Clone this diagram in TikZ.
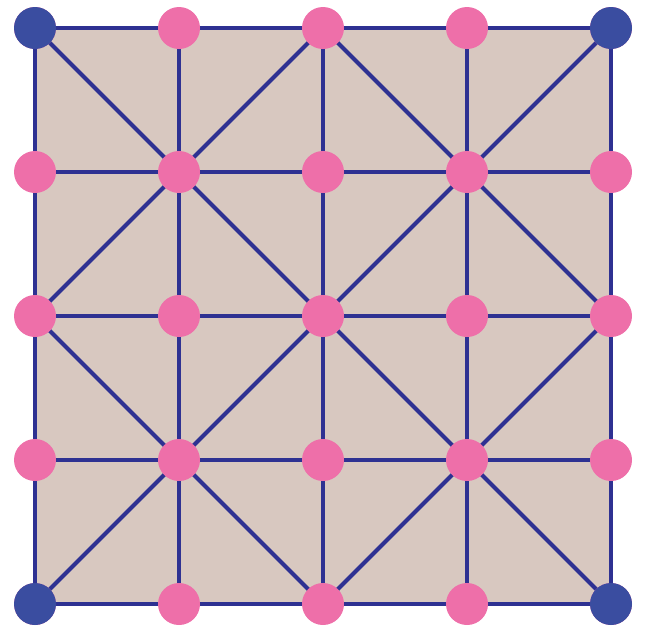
\documentclass[tikz,border=0pt]{standalone}
\begin{document}
\begin{tikzpicture}[x=0.75pt,y=-0.75pt,
  edge/.style={draw=lineblue,line width=3pt},
  pinkdot/.style={circle,fill=dotpink,minimum size=31.5pt,inner sep=0pt},
  bluedot/.style={circle,fill=dotblue,minimum size=31.5pt,inner sep=0pt}]
\definecolor{lineblue}{HTML}{2E3192}
\definecolor{dotpink}{HTML}{EE6FA9}
\definecolor{dotblue}{HTML}{3A4DA0}
\definecolor{paper}{HTML}{D8C8C0}
\useasboundingbox (0,0) rectangle (653,643);
\fill[paper] (35,28) rectangle (611,604);
% coordinates
\foreach \i in {0,...,4}{
  \foreach \j in {0,...,4}{
    \coordinate (c\i\j) at ({35+144*\i},{28+144*\j});
  }
}
% grid lines
\foreach \i in {0,...,4}{
  \draw[edge] (c\i0) -- (c\i4);
  \draw[edge] (c0\i) -- (c4\i);
}
% diagonals
\draw[edge] (c00) -- (c11) -- (c20) -- (c31) -- (c40);
\draw[edge] (c02) -- (c11) -- (c22) -- (c31) -- (c42);
\draw[edge] (c02) -- (c13) -- (c22) -- (c33) -- (c42);
\draw[edge] (c04) -- (c13) -- (c24) -- (c33) -- (c44);
% nodes
\foreach \i in {0,...,4}{
  \foreach \j in {0,...,4}{
    \node[pinkdot] (n\i\j) at (c\i\j) {};
  }
}
\node[bluedot] (b00) at (c00) {};
\node[bluedot] (b40) at (c40) {};
\node[bluedot] (b04) at (c04) {};
\node[bluedot] (b44) at (c44) {};
\end{tikzpicture}
\end{document}
